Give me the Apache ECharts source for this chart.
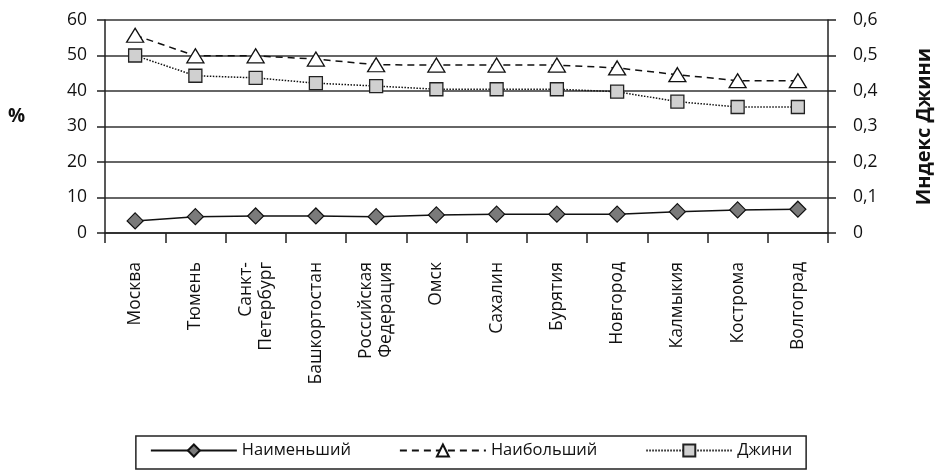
<!DOCTYPE html>
<html>
<head>
<meta charset="utf-8">
<script src="https://cdn.jsdelivr.net/npm/echarts@6/dist/echarts.min.js"></script>
<style>html,body{margin:0;padding:0;background:#fff}#c{width:942px;height:470px}</style>
</head>
<body>
<div id="c"></div>
<script>
var categories = ['Москва','Тюмень','Санкт-\nПетербург','Башкортостан','Российская\nФедерация','Омск','Сахалин','Бурятия','Новгород','Калмыкия','Кострома','Волгоград'];
var minValues = [3.4, 4.6, 4.8, 4.8, 4.6, 5.1, 5.3, 5.3, 5.3, 6.0, 6.5, 6.7];
var maxValues = [55.7, 49.9, 49.9, 49.0, 47.4, 47.3, 47.3, 47.3, 46.5, 44.6, 42.9, 42.9];
var giniValues = [0.50, 0.443, 0.437, 0.422, 0.414, 0.405, 0.405, 0.405, 0.398, 0.370, 0.355, 0.355];
var seriesNames = ['Наименьший', 'Наибольший', 'Джини'];
var leftTitle = '%';
var rightTitle = 'Индекс Джини';

var FONT = 'Open Sans';
var chart = echarts.init(document.getElementById('c'), null, {renderer: 'canvas'});
chart.setOption({
  animation: false,
  textStyle: {fontFamily: FONT},
  grid: {left: 105, right: 101, top: 20, bottom: 237, containLabel: false},
  xAxis: {
    type: 'category',
    data: categories,
    boundaryGap: true,
    axisLine: {show: true, lineStyle: {color: '#222', width: 1.5}},
    axisTick: {show: true, length: 10, inside: false, alignWithLabel: false, lineStyle: {color: '#222', width: 1.5}},
    axisLabel: {rotate: 90, margin: 29, fontSize: 17.5, color: '#111', fontFamily: FONT, lineHeight: 20, interval: 0}
  },
  yAxis: [{
    type: 'value', min: 0, max: 60, interval: 10,
    position: 'left',
    name: leftTitle, nameLocation: 'middle', nameRotate: 0, nameGap: 80,
    nameTextStyle: {fontSize: 19, fontWeight: 'bold', color: '#111', fontFamily: FONT, verticalAlign: 'bottom'},
    axisLine: {show: true, lineStyle: {color: '#222', width: 1.5}},
    axisTick: {show: true, length: 8, lineStyle: {color: '#222', width: 1.5}},
    axisLabel: {fontSize: 17.5, color: '#111', margin: 18, fontFamily: FONT},
    splitLine: {show: true, lineStyle: {color: '#333', width: 1.5}}
  }, {
    type: 'value', min: 0, max: 0.6, interval: 0.1,
    position: 'right',
    name: rightTitle, nameLocation: 'middle', nameRotate: 90, nameGap: 86,
    nameTextStyle: {fontSize: 20, fontWeight: 'bold', color: '#111', fontFamily: FONT},
    axisLine: {show: true, lineStyle: {color: '#222', width: 1.5}},
    axisTick: {show: true, length: 8, lineStyle: {color: '#222', width: 1.5}},
    axisLabel: {fontSize: 17.5, color: '#111', margin: 25, fontFamily: FONT,
      formatter: function (v) { return v === 0 ? '0' : v.toFixed(1).replace('.', ','); }},
    splitLine: {show: false}
  }],
  legend: {
    top: 436, left: 'center',
    data: seriesNames,
    itemWidth: 86, itemHeight: 15, itemGap: 48,
    padding: [6, 14, 10, 14],
    borderColor: '#222', borderWidth: 1.5, borderRadius: 0,
    textStyle: {fontSize: 16.5, color: '#111', fontFamily: FONT}
  },
  series: [{
    name: seriesNames[0], type: 'line', data: minValues, yAxisIndex: 0,
    symbol: 'diamond', symbolSize: 16,
    lineStyle: {color: '#111', width: 1.5, type: 'solid'},
    itemStyle: {color: '#7a7a7a', borderColor: '#111', borderWidth: 1.2}
  }, {
    name: seriesNames[1], type: 'line', data: maxValues, yAxisIndex: 0,
    symbol: 'triangle', symbolSize: [17, 14],
    lineStyle: {color: '#111', width: 1.5, type: [7, 5]},
    itemStyle: {color: '#fff', borderColor: '#111', borderWidth: 1.3}
  }, {
    name: seriesNames[2], type: 'line', data: giniValues, yAxisIndex: 1,
    symbol: 'rect', symbolSize: 13,
    lineStyle: {color: '#111', width: 1.5, type: [1.5, 1.5]},
    itemStyle: {color: '#d0d0d0', borderColor: '#222', borderWidth: 1.3}
  }]
});
</script>
</body>
</html>
